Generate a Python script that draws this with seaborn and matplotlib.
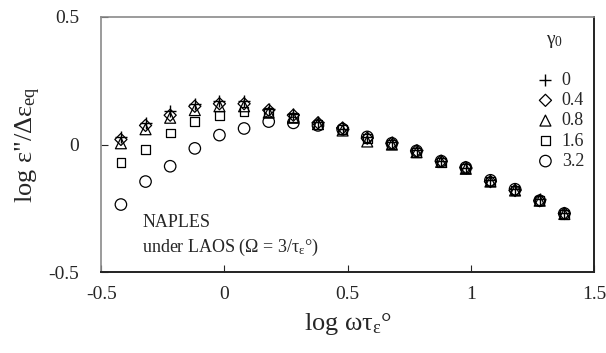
import matplotlib
matplotlib.use('Agg')
import matplotlib.pyplot as plt
import seaborn as sns
import pandas as pd

# log(omega*tau) positions, 0.1 step
log_wt = [-0.42, -0.32, -0.22, -0.12, -0.02, 0.08, 0.18, 0.28, 0.38, 0.48,
          0.58, 0.68, 0.78, 0.88, 0.98, 1.08, 1.18, 1.28, 1.38]

gamma_labels = ['0', '0.4', '0.8', '1.6', '3.2']

eps_g0 = [0.03, 0.085, 0.13, 0.16, 0.17, 0.17, 0.14, 0.12, 0.09, 0.06,
          0.03, 0.01, -0.02, -0.065, -0.09, -0.14, -0.175, -0.215, -0.27]
eps_g04 = [0.02, 0.075, 0.115, 0.15, 0.16, 0.16, 0.135, 0.115, 0.085, 0.065,
           0.025, 0.005, -0.025, -0.065, -0.09, -0.145, -0.18, -0.22, -0.27]
eps_g08 = [0.005, 0.06, 0.105, 0.135, 0.15, 0.15, 0.125, 0.105, 0.08, 0.055,
           0.012, 0.0, -0.03, -0.068, -0.095, -0.145, -0.18, -0.22, -0.272]
eps_g16 = [-0.07, -0.02, 0.045, 0.09, 0.115, 0.13, 0.125, 0.105, 0.08, 0.06,
           0.025, 0.0, -0.03, -0.07, -0.095, -0.145, -0.18, -0.22, -0.275]
eps_g32 = [-0.235, -0.145, -0.085, -0.015, 0.037, 0.063, 0.09, 0.085, 0.075, 0.06,
           0.03, 0.005, -0.025, -0.065, -0.09, -0.14, -0.175, -0.22, -0.27]

series = [eps_g0, eps_g04, eps_g08, eps_g16, eps_g32]
markers = ['+', 'D', '^', 's', 'o']
sizes = [80, 38, 62, 40, 68]

df = pd.concat([pd.DataFrame({'x': log_wt, 'y': s, 'gamma': g})
                for s, g in zip(series, gamma_labels)])

sns.set_style('ticks')
plt.rcParams['font.family'] = ['Liberation Serif', 'DejaVu Serif']
plt.rcParams['mathtext.fontset'] = 'custom'
plt.rcParams['mathtext.rm'] = 'Liberation Serif'
plt.rcParams['mathtext.it'] = 'Liberation Serif:italic'

fig, ax = plt.subplots(figsize=(6.06, 3.53), dpi=100)
fig.subplots_adjust(left=0.167, right=0.980, top=0.952, bottom=0.229)

for g, m, sz in zip(gamma_labels, markers, sizes):
    sub = df[df['gamma'] == g]
    if m == '+':
        sns.scatterplot(data=sub, x='x', y='y', marker=m, s=sz, color='k',
                        linewidth=1.0, ax=ax, label=g)
    else:
        sns.scatterplot(data=sub, x='x', y='y', marker=m, s=sz, facecolor='none',
                        edgecolor='k', linewidth=0.9, ax=ax, label=g)

ax.set_xlim(-0.5, 1.5)
ax.set_ylim(-0.5, 0.5)
ax.set_xticks([-0.5, 0, 0.5, 1, 1.5])
ax.set_xticklabels(['-0.5', '0', '0.5', '1', '1.5'])
ax.set_yticks([-0.5, 0, 0.5])
ax.set_yticklabels(['-0.5', '0', '0.5'])
ax.tick_params(axis='x', direction='in', length=5, width=0.8, pad=10, labelsize=14)
ax.tick_params(axis='y', direction='in', length=5, width=0.8, pad=16, labelsize=14)

for side in ['left', 'top']:
    ax.spines[side].set_color('#8a8a8a')
    ax.spines[side].set_linewidth(1.2)
for side in ['right', 'bottom']:
    ax.spines[side].set_color('#222222')
    ax.spines[side].set_linewidth(1.4)

ax.set_xlabel('log ωτ$_{\\mathrm{ε}}$°', fontsize=19, labelpad=6)
ax.set_ylabel('log ε"/Δε$_{\\mathrm{eq}}$', fontsize=19, labelpad=4)

ax.text(0.083, 0.195, 'NAPLES', transform=ax.transAxes, fontsize=13,
        ha='left', va='center')
ax.text(0.083, 0.098, 'under LAOS (Ω = 3/τ$_{\\mathrm{ε}}$°)', transform=ax.transAxes,
        fontsize=13, ha='left', va='center')

ax.text(0.903, 0.905, 'γ$_0$', transform=ax.transAxes, fontsize=14,
        ha='left', va='center')
ax.legend(loc='upper left', bbox_to_anchor=(0.887, 0.785), frameon=False,
          fontsize=13, handlelength=0.8, handletextpad=0.5, labelspacing=0.18,
          borderpad=0, borderaxespad=0)

fig.savefig('out.png', dpi=100)
